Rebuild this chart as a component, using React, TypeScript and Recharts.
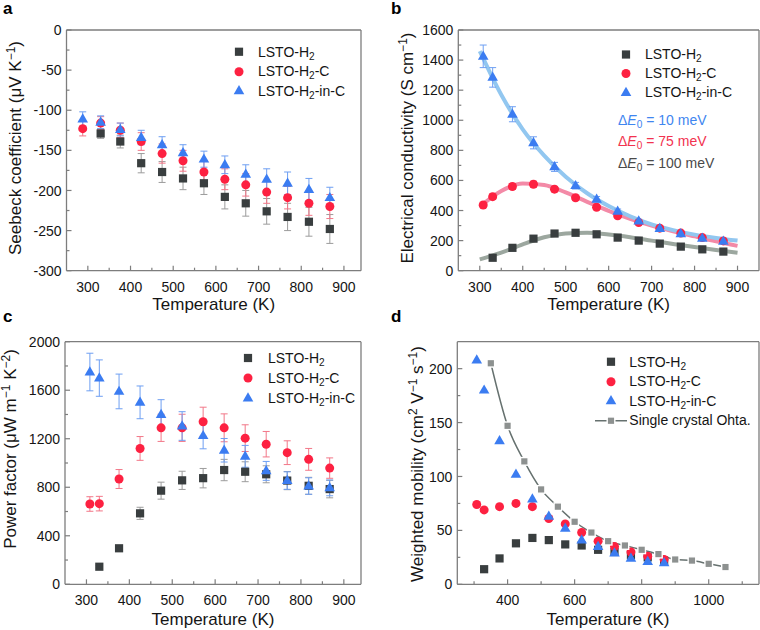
import React from "react";
import { ComposedChart, Scatter, Line, XAxis, YAxis, ErrorBar, Legend } from "recharts";

const FONT = "'Liberation Sans', Arial, Helvetica, sans-serif";
const AXIS = "#7d7d7d";
const INK = "#151515";
const C_H2 = "#393e3f";
const C_C = "#fd2141";
const C_IN = "#3b7cf1";
const E_H2 = "#9c9c9c";
const E_C = "#f27788";
const E_IN = "#6e9ff2";

// temperatures (K)
const T_A = [288, 330, 376, 425, 474, 523, 572, 621, 670, 719, 768, 818, 867];
const T = [308, 330, 376, 425, 474, 523, 572, 621, 670, 719, 768, 818, 867];
const T_A_H2 = [330, 376, 425, 474, 523, 572, 621, 670, 719, 768, 818, 867];
const T_H2 = [330, 376, 425, 474, 523, 572, 621, 670, 719, 768, 818, 867];
const T_FIT = [300, 350, 400, 450, 500, 550, 600, 650, 700, 750, 800, 850, 900];
const T_OHTA = [350, 400, 450, 500, 550, 600, 650, 700, 750, 800, 850, 900, 950, 1000, 1050];

// a: Seebeck coefficient (uV/K)
const seebeckH2 = [-129, -139, -166, -177, -185, -191, -208, -216, -226, -233, -239, -248];
const seebeckH2Err = [6, 8, 12, 13, 14, 14, 15, 16, 16, 17, 18, 18];
const seebeckC = [-123, -116, -125, -139, -154, -163, -177, -186, -193, -202, -209, -216, -220];
const seebeckCErr = [9, 8, 9, 11, 12, 13, 14, 13, 14, 14, 14, 15, 15];
const seebeckIn = [-111, -115, -124, -134, -143, -153, -161, -168, -180, -186, -191, -199, -209];
const seebeckInErr = [9, 8, 8, 9, 10, 10, 10, 11, 12, 13, 14, 14, 13];

// b: electrical conductivity (S/cm)
const sigmaH2 = [86, 152, 213, 247, 252, 242, 220, 200, 180, 160, 142, 127];
const sigmaH2Err = [8, 10, 12, 12, 12, 12, 10, 10, 9, 8, 8, 7];
const sigmaC = [437, 492, 560, 575, 542, 485, 422, 365, 320, 283, 250, 220, 198];
const sigmaCErr = [18, 18, 20, 20, 18, 16, 15, 14, 12, 11, 10, 9, 9];
const sigmaIn = [1425, 1285, 1040, 850, 690, 565, 475, 395, 330, 280, 245, 215, 195];
const sigmaInErr = [75, 65, 50, 40, 30, 22, 18, 15, 12, 10, 10, 9, 9];
const fitIn = [1460, 1170, 940, 765, 625, 515, 430, 362, 308, 270, 240, 218, 200];
const fitC = [425, 530, 580, 570, 520, 458, 398, 345, 300, 262, 228, 195, 165];
const fitH2 = [75, 120, 175, 222, 248, 252, 240, 222, 200, 178, 157, 138, 120];

// c: power factor (uW m-1 K-2)
const pfH2 = [145, 297, 585, 772, 857, 875, 942, 928, 907, 855, 812, 785];
const pfH2Err = [10, 15, 50, 70, 75, 80, 88, 82, 70, 75, 70, 72];
const pfC = [662, 665, 868, 1120, 1290, 1290, 1340, 1290, 1205, 1155, 1085, 1030, 958];
const pfCErr = [60, 60, 78, 98, 112, 112, 120, 115, 110, 105, 98, 90, 84];
const pfIn = [1750, 1700, 1590, 1500, 1400, 1305, 1225, 1105, 1055, 935, 855, 810, 795];
const pfInErr = [155, 150, 143, 135, 122, 118, 108, 97, 90, 78, 72, 68, 65];

// d: weighted mobility (cm2 V-1 s-1)
const muH2 = [14, 24, 38, 43, 41, 37, 36, 32, 30, 27, 25, 22];
const muC = [74, 69, 72, 75, 72, 61, 56, 48, 40, 35, 30, 26, 23];
const muIn = [208, 180, 133, 102, 79, 63, 52, 41, 35, 29, 24, 21, 20];
const muOhta = [205, 147, 114, 88, 72, 58, 48, 40, 36, 32, 28, 23, 22, 19, 16];

// axis ticks
const X_TICKS = [300, 350, 400, 450, 500, 550, 600, 650, 700, 750, 800, 850, 900];
const X_LABELS = [300, 400, 500, 600, 700, 800, 900];
const XD_TICKS = [300, 400, 500, 600, 700, 800, 900, 1000, 1100];
const XD_LABELS = [400, 600, 800, 1000];
const YA_TICKS = [-300, -275, -250, -225, -200, -175, -150, -125, -100, -75, -50, -25, 0];
const YA_LABELS = [-300, -250, -200, -150, -100, -50, 0];
const YB_TICKS = [0, 100, 200, 300, 400, 500, 600, 700, 800, 900, 1000, 1100, 1200, 1300, 1400, 1500, 1600];
const YB_LABELS = [0, 200, 400, 600, 800, 1000, 1200, 1400, 1600];
const YC_TICKS = [0, 200, 400, 600, 800, 1000, 1200, 1400, 1600, 1800, 2000];
const YC_LABELS = [0, 400, 800, 1200, 1600, 2000];
const YD_TICKS = [0, 25, 50, 75, 100, 125, 150, 175, 200];
const YD_LABELS = [0, 50, 100, 150, 200];

const rows = (t: number[], v: number[], e?: number[]) =>
  v.map((val, i) => ({ t: t[i], v: val, err: e ? e[i] : 0 }));

function Mark({ kind, cx, cy }: any) {
  if (cx == null || cy == null) return null;
  if (kind === "square") return <rect x={cx - 4.1} y={cy - 4.1} width={8.2} height={8.2} fill={C_H2} />;
  if (kind === "circle") return <circle cx={cx} cy={cy} r={4.5} fill={C_C} />;
  if (kind === "ohta")
    return <rect x={cx - 3.8} y={cy - 3.8} width={7.6} height={7.6} fill="#8d9190" stroke="#fff" strokeWidth={1.4} />;
  return <path d={`M${cx},${cy - 5.8} L${cx + 5.3},${cy + 3.4} L${cx - 5.3},${cy + 3.4} Z`} fill={C_IN} />;
}

function XTick({ x, y, payload, labels }: any) {
  const major = labels.includes(payload.value);
  return (
    <g>
      <line x1={x} x2={x} y1={y} y2={y - (major ? 5 : 3)} stroke={AXIS} strokeWidth={1.2} />
      {major && (
        <text x={x} y={y + 21} textAnchor="middle" fontSize={14} fill={INK} fontFamily={FONT}>
          {payload.value}
        </text>
      )}
    </g>
  );
}

function YTick({ x, y, payload, labels }: any) {
  const major = labels.includes(payload.value);
  return (
    <g>
      <line x1={x} x2={x + (major ? 5 : 3)} y1={y} y2={y} stroke={AXIS} strokeWidth={1.2} />
      {major && (
        <text x={x - 5} y={y} dy="0.36em" textAnchor="end" fontSize={14} fill={INK} fontFamily={FONT}>
          {payload.value}
        </text>
      )}
    </g>
  );
}

const sub = (s: string) => (
  <sub style={{ fontSize: "0.72em", verticalAlign: "-0.3em", lineHeight: 0 }}>{s}</sub>
);

const KEY3 = [
  { kind: "square", label: <>LSTO-H{sub("2")}</> },
  { kind: "circle", label: <>LSTO-H{sub("2")}-C</> },
  { kind: "triangle", label: <>LSTO-H{sub("2")}-in-C</> },
];
const KEY4 = [...KEY3, { kind: "ohta", label: <>Single crystal Ohta.</> }];

function KeyBox({ items, rowH, swatchW, gap, notes }: any) {
  return (
    <div style={{ fontFamily: FONT, fontSize: 14, color: INK, lineHeight: 1 }}>
      {items.map((it: any, i: number) => (
        <div key={i} style={{ display: "flex", alignItems: "center", height: rowH }}>
          <svg width={swatchW} height={rowH} style={{ flex: "none", overflow: "visible" }}>
            {it.kind === "ohta" && (
              <line x1={1} x2={swatchW - 1} y1={rowH / 2} y2={rowH / 2} stroke="#66716f" strokeWidth={1.5} />
            )}
            <Mark kind={it.kind} cx={swatchW / 2} cy={rowH / 2} />
          </svg>
          <span style={{ marginLeft: gap, whiteSpace: "nowrap" }}>{it.label}</span>
        </div>
      ))}
      {notes}
    </div>
  );
}

const deltaNote = (mev: number, color: string) => (
  <div style={{ height: 21.5, display: "flex", alignItems: "center", color, whiteSpace: "nowrap" }}>
    <span>
      Δ<i>E</i>
      {sub("0")} = {mev} meV
    </span>
  </div>
);

function Panel({ left, top, margin, xDomain, xTicks, xLabels, yDomain, yTicks, yLabels, legend, children }: any) {
  const line = { stroke: AXIS, strokeWidth: 1.3 };
  return (
    <div style={{ position: "absolute", left, top }}>
      <ComposedChart width={380} height={315} margin={margin}>
        <XAxis
          dataKey="t"
          type="number"
          domain={xDomain}
          ticks={xTicks}
          interval={0}
          allowDataOverflow
          height={1}
          tickSize={0}
          tickMargin={0}
          tickLine={false}
          axisLine={line}
          tick={(p: any) => <XTick {...p} labels={xLabels} />}
        />
        <XAxis
          xAxisId="top"
          orientation="top"
          type="number"
          domain={xDomain}
          height={1}
          tick={false}
          tickLine={false}
          axisLine={line}
        />
        <YAxis
          dataKey="v"
          type="number"
          domain={yDomain}
          ticks={yTicks}
          interval={0}
          allowDataOverflow
          width={1}
          tickSize={0}
          tickMargin={0}
          tickLine={false}
          axisLine={line}
          tick={(p: any) => <YTick {...p} labels={yLabels} />}
        />
        <YAxis
          yAxisId="right"
          orientation="right"
          type="number"
          domain={yDomain}
          width={1}
          tick={false}
          tickLine={false}
          axisLine={line}
        />
        {children}
        <Legend
          layout="vertical"
          align="center"
          verticalAlign="middle"
          wrapperStyle={{ left: legend.left, top: legend.top, width: "auto", height: "auto" }}
          content={() => legend.box}
        />
      </ComposedChart>
    </div>
  );
}

const dots = (kind: string, data: any[], errColor?: string) => (
  <Scatter
    key={kind + data.length + data[0].v}
    data={data}
    isAnimationActive={false}
    shape={(p: any) => <Mark kind={kind} cx={p.cx} cy={p.cy} />}
  >
    {errColor && <ErrorBar dataKey="err" direction="y" width={3.5} stroke={errColor} strokeWidth={1} />}
  </Scatter>
);

const fit = (data: any[], color: string) => (
  <Line
    key={color}
    data={data}
    dataKey="v"
    type="monotone"
    stroke={color}
    strokeWidth={4}
    dot={false}
    activeDot={false}
    isAnimationActive={false}
  />
);

const sup = (s: string, after: string) => (
  <>
    <tspan dy={-6} fontSize={12}>
      {s}
    </tspan>
    <tspan dy={6}>{after}</tspan>
  </>
);

function YTitle({ x, y, children }: any) {
  return (
    <text
      x={x}
      y={y}
      transform={`rotate(-90 ${x} ${y})`}
      textAnchor="middle"
      fontSize={17}
      fill={INK}
      fontFamily={FONT}
    >
      {children}
    </text>
  );
}

// plot frames: a (66.5..361, 30..271), b (458.3..759, 30..271), c (65..361, 341.7..584.3), d (457.3..759, 341.7..584.3)
export default function App() {
  return (
    <div style={{ position: "absolute", left: 0, top: 0, width: 760, height: 630, background: "#fff" }}>
      <Panel
        left={0}
        top={0}
        margin={{ top: 29, right: 18, bottom: 43.3, left: 65.5 }}
        xDomain={[250, 940]}
        xTicks={X_TICKS}
        xLabels={X_LABELS}
        yDomain={[-300, 0]}
        yTicks={YA_TICKS}
        yLabels={YA_LABELS}
        legend={{ left: 231, top: 42, box: <KeyBox items={KEY3} rowH={19.5} swatchW={16} gap={11} /> }}
      >
        {dots("square", rows(T_A_H2, seebeckH2, seebeckH2Err), E_H2)}
        {dots("circle", rows(T_A, seebeckC, seebeckCErr), E_C)}
        {dots("triangle", rows(T_A, seebeckIn, seebeckInErr), E_IN)}
      </Panel>

      <Panel
        left={380}
        top={0}
        margin={{ top: 29, right: 0, bottom: 43.3, left: 77.3 }}
        xDomain={[250, 950]}
        xTicks={X_TICKS}
        xLabels={X_LABELS}
        yDomain={[0, 1600]}
        yTicks={YB_TICKS}
        yLabels={YB_LABELS}
        legend={{
          left: 238,
          top: 44.5,
          box: (
            <KeyBox
              items={KEY3}
              rowH={19}
              swatchW={16}
              gap={11}
              notes={
                <div style={{ marginTop: 7.5 }}>
                  {deltaNote(10, "#3f86f0")}
                  {deltaNote(75, "#f2334f")}
                  {deltaNote(100, "#4a4a4a")}
                </div>
              }
            />
          ),
        }}
      >
        {fit(rows(T_FIT, fitH2), "#9ca79f")}
        {fit(rows(T_FIT, fitC), "#f38aa7")}
        {fit(rows(T_FIT, fitIn), "#92c7f0")}
        {dots("square", rows(T_H2, sigmaH2, sigmaH2Err), E_H2)}
        {dots("circle", rows(T, sigmaC, sigmaCErr), E_C)}
        {dots("triangle", rows(T, sigmaIn, sigmaInErr), E_IN)}
      </Panel>

      <Panel
        left={0}
        top={315}
        margin={{ top: 25.7, right: 18, bottom: 44.7, left: 64 }}
        xDomain={[250, 940]}
        xTicks={X_TICKS}
        xLabels={X_LABELS}
        yDomain={[0, 2000]}
        yTicks={YC_TICKS}
        yLabels={YC_LABELS}
        legend={{ left: 240, top: 33.3, box: <KeyBox items={KEY3} rowH={20} swatchW={16} gap={12} /> }}
      >
        {dots("square", rows(T_H2, pfH2, pfH2Err), E_H2)}
        {dots("circle", rows(T, pfC, pfCErr), E_C)}
        {dots("triangle", rows(T, pfIn, pfInErr), E_IN)}
      </Panel>

      <Panel
        left={380}
        top={315}
        margin={{ top: 25.7, right: 0, bottom: 44.7, left: 76.3 }}
        xDomain={[250, 1150]}
        xTicks={XD_TICKS}
        xLabels={XD_LABELS}
        yDomain={[0, 225]}
        yTicks={YD_TICKS}
        yLabels={YD_LABELS}
        legend={{ left: 214, top: 37, box: <KeyBox items={KEY4} rowH={19.5} swatchW={34} gap={1.3} /> }}
      >
        <Line
          key="ohta"
          data={rows(T_OHTA, muOhta)}
          dataKey="v"
          type="monotone"
          stroke="#66716f"
          strokeWidth={1.5}
          dot={(p: any) => <Mark key={`o${p.index}`} kind="ohta" cx={p.cx} cy={p.cy} />}
          activeDot={false}
          isAnimationActive={false}
        />
        {dots("square", rows(T_H2, muH2))}
        {dots("circle", rows(T, muC))}
        {dots("triangle", rows(T, muIn))}
      </Panel>

      <svg width={760} height={630} style={{ position: "absolute", left: 0, top: 0, pointerEvents: "none" }}>
        <g fontFamily={FONT} fontWeight="bold" fontSize={17} fill="#000">
          <text x={3} y={14}>a</text>
          <text x={391} y={14}>b</text>
          <text x={3} y={322}>c</text>
          <text x={391} y={322}>d</text>
        </g>
        <g fontFamily={FONT} fontSize={17} fill={INK} textAnchor="middle">
          <text x={213.7} y={310}>Temperature (K)</text>
          <text x={608.6} y={310}>Temperature (K)</text>
          <text x={213} y={625}>Temperature (K)</text>
          <text x={608} y={625}>Temperature (K)</text>
        </g>
        <YTitle x={21.3} y={148}>
          Seebeck coefficient (μV K{sup("−1", ")")}
        </YTitle>
        <YTitle x={413.3} y={148}>
          Electrical conductivity (S cm{sup("−1", ")")}
        </YTitle>
        <YTitle x={16} y={449}>
          Power factor (μW m{sup("−1", " K")}
          {sup("−2", ")")}
        </YTitle>
        <YTitle x={423.3} y={464}>
          Weighted mobility (cm{sup("2", " V")}
          {sup("−1", " s")}
          {sup("−1", ")")}
        </YTitle>
      </svg>
    </div>
  );
}
